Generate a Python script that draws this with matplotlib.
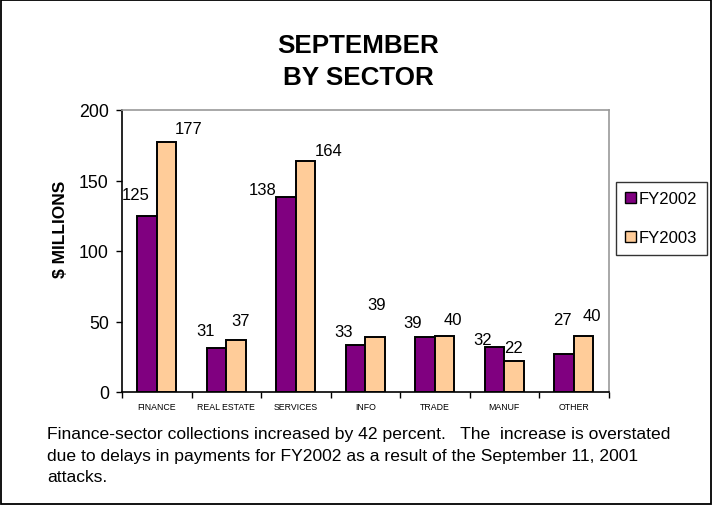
import matplotlib
matplotlib.use("Agg")
import matplotlib.pyplot as plt
from matplotlib.patches import Patch, Rectangle
import numpy as np

plt.rcParams['font.family'] = ['Liberation Sans', 'DejaVu Sans']

categories = ["FINANCE", "REAL ESTATE", "SERVICES", "INFO", "TRADE", "MANUF", "OTHER"]
fy2002 = [125, 31, 138, 33, 39, 32, 27]
fy2003 = [177, 37, 164, 39, 40, 22, 40]
series_names = ["FY2002", "FY2003"]
yticks = [0, 50, 100, 150, 200]
title_lines = ["SEPTEMBER", "BY SECTOR"]
ylabel = "$ MILLIONS"
caption_lines = [
    "Finance-sector collections increased by 42 percent.   The  increase is overstated",
    "due to delays in payments for FY2002 as a result of the September 11, 2001",
    "attacks.",
]

# label offsets (pixels: dx, dy above bar top to text baseline)
off2002 = [(-11, 17), (-11, 13), (-23, 3), (-12, 9), (-12, 10), (-12, 3), (-2, 30)]
off2003 = [(22, 9), (5, 15), (23, 6), (2, 28), (8, 12), (0, 9), (8, 16)]

W, H = 713, 506
fig = plt.figure(figsize=(W / 100, H / 100), dpi=100)
ax = fig.add_axes([122 / W, 1 - 393 / H, (608.5 - 122) / W, (393 - 111) / H])

c1 = "#800080"
c2 = "#FFCC99"
x = np.arange(len(categories))
bw = 0.28
ax.bar(x - bw / 2, fy2002, bw, color=c1, edgecolor="black", linewidth=1.4, zorder=3)
ax.bar(x + bw / 2, fy2003, bw, color=c2, edgecolor="black", linewidth=1.4, zorder=3)

for xi, v, (dx, dy) in zip(x - bw / 2, fy2002, off2002):
    ax.annotate(str(v), (xi, v), xytext=(dx, dy), textcoords="offset pixels",
                ha="center", va="baseline", fontsize=12, annotation_clip=False)
for xi, v, (dx, dy) in zip(x + bw / 2, fy2003, off2003):
    ax.annotate(str(v), (xi, v), xytext=(dx, dy), textcoords="offset pixels",
                ha="center", va="baseline", fontsize=12, annotation_clip=False)

ax.set_xlim(-0.5, len(categories) - 0.5)
ax.set_ylim(0, 200)
ax.set_yticks(yticks)
ax.tick_params(axis="y", direction="out", length=4.5, width=1, labelsize=12.8, pad=5)
ax.set_xticks(x)
ax.set_xticklabels(categories, fontsize=6.3)
ax.set_xticks(np.arange(-0.5, len(categories), 1.0), minor=True)
ax.tick_params(axis="x", which="major", length=0, pad=7)
ax.tick_params(axis="x", which="minor", direction="out", length=4.5, width=1)

for s in ["top", "right"]:
    ax.spines[s].set_color("#9a9a9a")
    ax.spines[s].set_linewidth(1.2)
for s in ["left", "bottom"]:
    ax.spines[s].set_color("black")
    ax.spines[s].set_linewidth(1.2)

fig.text(0.502, 1 - 53.3 / H, title_lines[0], ha="center", va="baseline",
         fontsize=18.7, fontweight="bold")
fig.text(0.502, 1 - 85 / H, title_lines[1], ha="center", va="baseline",
         fontsize=18.7, fontweight="bold")

fig.text(60.7 / W, 1 - 229.5 / H, ylabel, rotation=90, ha="center", va="center",
         fontsize=12.5, fontweight="bold")

handles = [Patch(facecolor=c1, edgecolor="black", linewidth=1),
           Patch(facecolor=c2, edgecolor="black", linewidth=1)]
leg = fig.legend(handles, series_names, loc="upper left",
                 bbox_to_anchor=(616 / W, 1 - 183 / H), fontsize=12,
                 handlelength=0.62, handleheight=0.62, handletextpad=0.2,
                 labelspacing=1.45, borderpad=0.55, borderaxespad=0,
                 frameon=True, fancybox=False)
leg.get_frame().set_edgecolor("black")
leg.get_frame().set_linewidth(1)

for line, base in zip(caption_lines, [439.3, 460.7, 481.7]):
    fig.text(47 / W, 1 - base / H, line, ha="left", va="baseline", fontsize=12.6)

fig.patches.append(Rectangle((0.8 / W, 0.8 / H), (W - 2.6) / W, (H - 2.0) / H,
                             transform=fig.transFigure, fill=False,
                             edgecolor="black", linewidth=1.3))

fig.savefig("out.png", dpi=100)
